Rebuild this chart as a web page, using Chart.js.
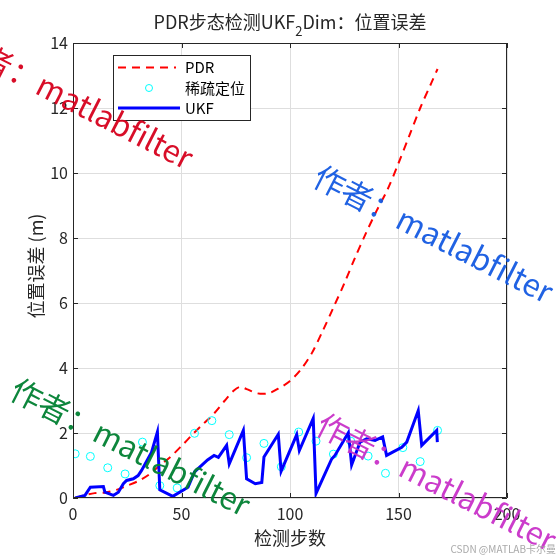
<!DOCTYPE html>
<html>
<head>
<meta charset="utf-8">
<script src="https://cdn.jsdelivr.net/npm/chart.js@4/dist/chart.umd.min.js"></script>
<style>
  html, body { margin: 0; padding: 0; background: #fff; }
  #wrap { width: 560px; height: 560px; }
</style>
</head>
<body>
<div id="wrap"><canvas id="myChart" width="560" height="560"></canvas></div>
<script>
// PDR 误差曲线
var stepPDR = [1, 5, 10, 15, 20, 25, 30, 35, 40, 45, 50, 55, 60, 65, 70, 74, 77, 80, 85, 90,
    95, 100, 105, 110, 115, 120, 125, 130, 135, 140, 145, 150, 155, 160, 165, 168];
var errPDR = [0, 0.08, 0.15, 0.17, 0.25, 0.38, 0.52, 0.72, 1.0, 1.27, 1.6, 1.95, 2.28, 2.6, 3.0, 3.3, 3.42, 3.35, 3.22, 3.22,
    3.38, 3.6, 3.95, 4.45, 5.13, 5.86, 6.6, 7.4, 8.15, 8.85, 9.5, 10.3, 11.15, 12.0, 12.75, 13.2];

// 稀疏定位点
var stepSparse = [1, 8, 16, 24, 32, 40, 48, 56, 64, 72, 80, 88, 96, 104, 112, 120, 128, 136, 144, 152, 160, 168];
var errSparse = [1.36, 1.28, 0.93, 0.74, 1.72, 0.38, 0.31, 1.99, 2.38, 1.95, 1.24, 1.68, 0.96, 2.03, 1.75, 1.35, 1.75, 1.29, 0.76, 1.55, 1.12, 2.08];

// UKF 误差曲线
var stepUKF = [1, 5.5, 8, 14, 14.7, 18.6, 20.9, 23.2, 24.7, 27.8, 30, 31.6, 36.2, 38.9, 40, 46, 53, 56, 62, 65,
    67, 70.8, 72, 78.5, 80, 84, 87, 88, 94.6, 95.9, 103.1, 104.3, 110.7, 112, 119.2, 120.7, 126.9, 128.4, 132.3, 135.3,
    139.2, 142.7, 144.5, 151.5, 153.8, 159.1, 160.7, 167.6, 167.9];
var errUKF = [0, 0.08, 0.33, 0.35, 0.18, 0.08, 0.18, 0.44, 0.54, 0.59, 0.69, 0.85, 1.41, 2.03, 0.25, 0.05, 0.33, 0.8, 1.17, 1.31,
    1.25, 1.62, 1.05, 2.08, 0.59, 0.44, 0.48, 1.26, 1.96, 0.82, 1.95, 1.46, 2.45, 0.14, 1.2, 1.31, 2.01, 1.02, 1.72, 1.82,
    1.77, 1.88, 1.31, 1.56, 1.72, 2.69, 1.62, 2.08, 1.72];

var xTicks = [0, 50, 100, 150, 200];
var yTicks = [0, 2, 4, 6, 8, 10, 12, 14];

var FONT = "'Noto Sans CJK SC', 'Noto Sans', sans-serif";
var TXT = '#262626';

function toPoints(xs, ys) {
    var pts = [];
    for (var i = 0; i < xs.length; i++) {
        pts.push({ x: xs[i], y: ys[i] });
    }
    return pts;
}

// 水印
var marks = [
    { x: -44, y: 40, color: 'rgba(214,0,28,0.95)' },
    { x: 316, y: 174, color: 'rgba(20,90,225,0.95)' },
    { x: 13, y: 387, color: 'rgba(0,128,50,0.95)' },
    { x: 319, y: 422, color: 'rgba(200,50,200,0.95)' }
];

var decorPlugin = {
    id: 'decor',
    afterDraw: function (chart) {
        var ctx = chart.ctx;
        var a = chart.chartArea;
        var xs = chart.scales.x, ys = chart.scales.y;
        ctx.save();

        // box + inward ticks
        ctx.strokeStyle = TXT;
        ctx.lineWidth = 1;
        ctx.beginPath();
        ctx.rect(a.left + 0.5, a.top + 0.5, a.right - a.left - 1, a.bottom - a.top - 1);
        xTicks.forEach(function (v) {
            var p = Math.round(xs.getPixelForValue(v)) + 0.5;
            ctx.moveTo(p, a.bottom); ctx.lineTo(p, a.bottom - 5);
            ctx.moveTo(p, a.top); ctx.lineTo(p, a.top + 5);
        });
        yTicks.forEach(function (v) {
            var p = Math.round(ys.getPixelForValue(v)) + 0.5;
            ctx.moveTo(a.left, p); ctx.lineTo(a.left + 5, p);
            ctx.moveTo(a.right, p); ctx.lineTo(a.right - 5, p);
        });
        ctx.stroke();

        // title with subscript
        ctx.fillStyle = TXT;
        ctx.textBaseline = 'alphabetic';
        var p1 = 'PDR步态检测UKF', p3 = 'Dim：位置误差';
        ctx.font = '13px ' + FONT;
        var w2 = ctx.measureText('2').width;
        ctx.font = '18px ' + FONT;
        var w1 = ctx.measureText(p1).width, w3 = ctx.measureText(p3).width;
        var tx = (a.left + a.right) / 2 - (w1 + w2 + w3) / 2;
        ctx.textAlign = 'left';
        ctx.fillText(p1, tx, 29);
        ctx.font = '13px ' + FONT;
        ctx.fillText('2', tx + w1, 36);
        ctx.font = '18px ' + FONT;
        ctx.fillText(p3, tx + w1 + w2, 29);

        // axis titles
        ctx.textAlign = 'center';
        ctx.textBaseline = 'middle';
        ctx.fillText('检测步数', (a.left + a.right) / 2, 538);
        ctx.save();
        ctx.translate(36, 266);
        ctx.rotate(-Math.PI / 2);
        ctx.fillText('位置误差 (m)', 0, 0);
        ctx.restore();

        // legend
        var lx = 113, ly = 55, lw = 137, lh = 65;
        ctx.fillStyle = '#fff';
        ctx.fillRect(lx, ly, lw, lh);
        ctx.strokeStyle = TXT;
        ctx.lineWidth = 1;
        ctx.strokeRect(lx + 0.5, ly + 0.5, lw, lh);
        ctx.lineWidth = 2;
        ctx.strokeStyle = '#ff0000';
        ctx.setLineDash([8, 6]);
        ctx.beginPath(); ctx.moveTo(118, 67.5); ctx.lineTo(176, 67.5); ctx.stroke();
        ctx.setLineDash([]);
        ctx.lineWidth = 1;
        ctx.strokeStyle = '#00ffff';
        ctx.beginPath(); ctx.arc(149, 88, 3.5, 0, Math.PI * 2); ctx.stroke();
        ctx.lineWidth = 3;
        ctx.strokeStyle = '#0000ff';
        ctx.beginPath(); ctx.moveTo(118, 108); ctx.lineTo(180, 108); ctx.stroke();
        ctx.fillStyle = '#000';
        ctx.textAlign = 'left';
        ctx.font = '15px ' + FONT;
        ctx.fillText('PDR', 185, 67);
        ctx.fillText('稀疏定位', 185, 88);
        ctx.fillText('UKF', 185, 108);

        // watermarks
        ctx.font = '31px ' + FONT;
        ctx.textBaseline = 'middle';
        marks.forEach(function (m) {
            ctx.save();
            ctx.translate(m.x, m.y);
            ctx.rotate(27 * Math.PI / 180);
            ctx.fillStyle = m.color;
            ctx.fillText('作者：matlabfilter', 0, 0);
            ctx.restore();
        });

        ctx.font = '10px ' + FONT;
        ctx.fillStyle = 'rgba(160,160,160,0.9)';
        ctx.textAlign = 'right';
        ctx.fillText('CSDN @MATLAB卡尔曼', 556, 549);
        ctx.restore();
    }
};

var ctx = document.getElementById('myChart').getContext('2d');
var myChart = new Chart(ctx, {
    type: 'scatter',
    data: {
        datasets: [
            {
                label: 'UKF',
                data: toPoints(stepUKF, errUKF),
                showLine: true,
                borderColor: '#0000ff',
                borderWidth: 3,
                pointRadius: 0,
                fill: false,
                tension: 0,
                order: 0
            },
            {
                label: '稀疏定位',
                data: toPoints(stepSparse, errSparse),
                showLine: false,
                borderColor: '#00ffff',
                backgroundColor: 'rgba(0,0,0,0)',
                borderWidth: 1,
                pointRadius: 4,
                pointStyle: 'circle',
                order: 1
            },
            {
                label: 'PDR',
                data: toPoints(stepPDR, errPDR),
                showLine: true,
                borderColor: '#ff0000',
                borderWidth: 2,
                borderDash: [8, 6],
                pointRadius: 0,
                fill: false,
                tension: 0.3,
                order: 2
            }
        ]
    },
    options: {
        responsive: false,
        animation: false,
        layout: { padding: { left: 0, right: 53, top: 43, bottom: 0 } },
        plugins: {
            legend: { display: false },
            title: { display: false },
            tooltip: { enabled: false }
        },
        scales: {
            x: {
                type: 'linear',
                min: 0,
                max: 200,
                afterFit: function (scale) { scale.height = 62; },
                afterBuildTicks: function (scale) {
                    scale.ticks = xTicks.map(function (v) { return { value: v }; });
                },
                ticks: { color: TXT, font: { family: FONT, size: 16 }, padding: 6, maxRotation: 0 },
                grid: { color: '#dedede', drawTicks: false },
                border: { display: false }
            },
            y: {
                type: 'linear',
                min: 0,
                max: 14,
                afterFit: function (scale) { scale.width = 73; },
                afterBuildTicks: function (scale) {
                    scale.ticks = yTicks.map(function (v) { return { value: v }; });
                },
                ticks: { color: TXT, font: { family: FONT, size: 16 }, padding: 5 },
                grid: { color: '#dedede', drawTicks: false },
                border: { display: false }
            }
        }
    },
    plugins: [decorPlugin]
});
</script>
</body>
</html>
